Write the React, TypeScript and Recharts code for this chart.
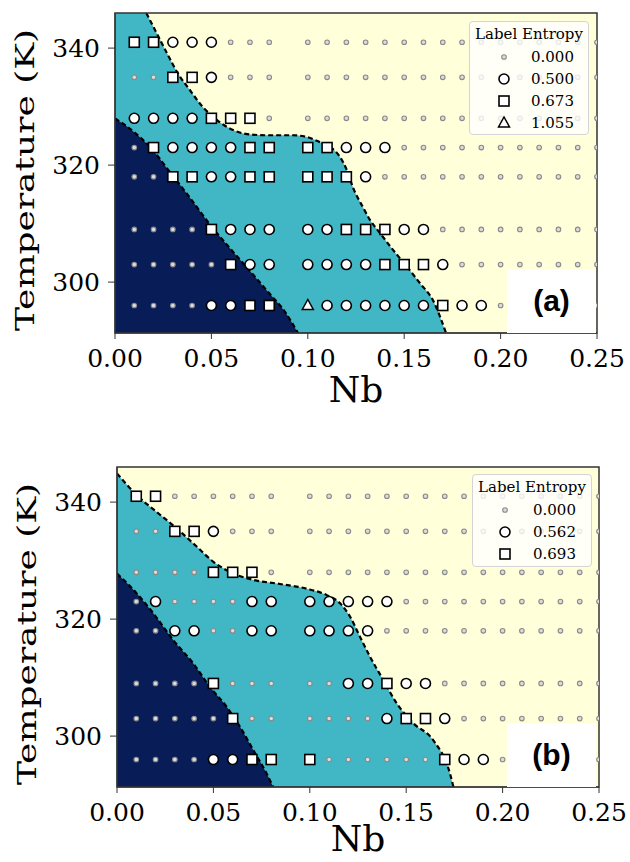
import React from "react";
import { ComposedChart, XAxis, YAxis, Area, Scatter, ReferenceArea } from "recharts";

// composition grid (Nb) and temperatures of the sampled points
const NB = [
  0.01, 0.02, 0.03, 0.04, 0.05, 0.06, 0.07, 0.08,
  0.1, 0.11, 0.12, 0.13, 0.14, 0.15, 0.16, 0.17, 0.18, 0.19, 0.2, 0.21, 0.22, 0.23, 0.24, 0.25,
];
const TEMPS = [341, 335, 328, 323, 318, 309, 303, 296];

const X_TICKS = [0, 0.05, 0.1, 0.15, 0.2, 0.25];
const Y_TICKS = [300, 320, 340];
const T_MIN = 291.3;
const T_MAX = 346;

// label entropy codes per row (first 8 = 0.01..0.08, then 0.10..0.25)
// "." 0.000   "o" circle   "s" square   "^" triangle
const GRID_A = [
  "ssooo... ................",
  "..sso... ................",
  "oooosss. ................",
  ".sooooss ssooo...........",
  "..ssooss ssso............",
  "....sooo oosssoo.........",
  ".....soo oooossso........",
  "....ooss ^oooooosoo......",
];
const GRID_B = [
  "ss...... ................",
  "..sso... ................",
  "....sss. ................",
  ".o....oo ooooo...........",
  "..oo..oo oooo............",
  "....s... ..oosoo.........",
  ".....s.. ....osso........",
  "....ooss s......soo......",
];

const LEGEND_A = ["0.000", "0.500", "0.673", "1.055"];
const LEGEND_B = ["0.000", "0.562", "0.693"];

// phase boundaries [Nb, T]
const LOWER_A = [
  [0, 328.0], [0.0104, 325.5], [0.0182, 323.1], [0.0285, 318.8], [0.0389, 314.4],
  [0.0498, 309.6], [0.0596, 305.8], [0.07, 301.9], [0.0794, 298.3], [0.0882, 294.9], [0.0949, 291.3],
];
const UPPER_A = [
  [0, 352], [0.013, 348], [0.0181, 344.8], [0.027, 339.1], [0.0322, 335.9], [0.0389, 332.8],
  [0.0456, 329.9], [0.0529, 327.7], [0.0612, 326.0], [0.0685, 325.3], [0.0788, 325.1],
  [0.0923, 325.1], [0.0996, 324.8], [0.1063, 323.9], [0.1115, 323.1], [0.1167, 321.4],
  [0.1203, 319.1], [0.1234, 316.2], [0.1286, 312.8], [0.1323, 310.6], [0.1374, 308.4],
  [0.1442, 305.5], [0.1515, 302.6], [0.1582, 299.8], [0.1649, 296.9], [0.1717, 291.3],
];
const LOWER_B = [
  [0, 327.8], [0.0102, 324.4], [0.0188, 321.0], [0.0292, 316.4], [0.0396, 312.4],
  [0.0482, 308.4], [0.0569, 305.0], [0.0638, 301.6], [0.0707, 297.6], [0.0776, 293.6], [0.081, 291.3],
];
const UPPER_B = [
  [0, 344.9], [0.0102, 341.2], [0.0206, 338.3], [0.031, 335.5], [0.0413, 332.4], [0.05, 329.8],
  [0.0603, 327.8], [0.0707, 326.7], [0.0845, 326.0], [0.0984, 325.2], [0.1088, 324.1],
  [0.1157, 322.7], [0.1209, 320.4], [0.126, 317.0], [0.1312, 313.6], [0.1381, 309.6],
  [0.1451, 305.6], [0.1537, 302.2], [0.164, 299.3], [0.1727, 293.6], [0.1745, 291.3],
];

const NAVY = "#081d58";
const TEAL = "#41b6c4";
const CREAM = "#ffffd9";
const SERIF = "DejaVu Serif";

type Pt = { x: number; t: number };
const toPts = (pairs: number[][]): Pt[] => pairs.map(([x, t]) => ({ x, t }));
const FULL = toPts([[0, T_MAX], [0.25, T_MAX]]);

function pick(grid: string[], code: string): Pt[] {
  const out: Pt[] = [];
  grid.forEach((row, i) => {
    row.replace(/ /g, "").split("").forEach((c, j) => {
      if (c === code) out.push({ x: NB[j], t: TEMPS[i] });
    });
  });
  return out;
}

// marker shapes
const SmallDot = (p: any) => (
  <circle cx={p.cx} cy={p.cy} r={2.3} fill="#dcdcdc" stroke="#8a8a8a" strokeWidth={1.1} />
);
const OpenCircle = (p: any) => (
  <circle cx={p.cx} cy={p.cy} r={5} fill="#fff" stroke="#000" strokeWidth={1.6} />
);
const OpenSquare = (p: any) => (
  <rect x={p.cx - 5} y={p.cy - 5} width={10} height={10} fill="#fff" stroke="#000" strokeWidth={1.6} />
);
const OpenTriangle = (p: any) => (
  <polygon
    points={`${p.cx},${p.cy - 6} ${p.cx - 5.5},${p.cy + 4} ${p.cx + 5.5},${p.cy + 4}`}
    fill="#fff"
    stroke="#000"
    strokeWidth={1.5}
  />
);
const SHAPES: Record<string, (p: any) => React.ReactElement> = {
  ".": SmallDot,
  o: OpenCircle,
  s: OpenSquare,
  "^": OpenTriangle,
};
const CODES = [".", "o", "s", "^"];

const tempLabel = (props: any) => {
  const vb = props.viewBox ?? { x: 0, y: 13, width: 115, height: 320 };
  const cx = vb.x + 34;
  const cy = vb.y + vb.height / 2 + 7;
  return (
    <text
      transform={`translate(${cx},${cy}) rotate(-90) scale(1,0.72)`}
      textAnchor="middle"
      fontFamily={SERIF}
      fontSize={36}
      fill="#000"
    >
      Temperature (K)
    </text>
  );
};

const makeNbLabel = (dy: number) => (props: any) => {
  const vb = props.viewBox ?? { x: 115, y: 333, width: 482, height: 60 };
  return (
    <text x={vb.x + vb.width / 2} y={vb.y + dy} textAnchor="middle" fontFamily={SERIF} fontSize={36} fill="#000">
      Nb
    </text>
  );
};

function EntropyLegend({ left, top, width, height, values, markerX, textX }: any) {
  return (
    <div
      style={{
        position: "absolute",
        left,
        top,
        width,
        height,
        boxSizing: "border-box",
        background: "rgba(255,255,255,0.8)",
        border: "1px solid #d4d4d4",
        borderRadius: 4,
        fontFamily: SERIF,
        fontSize: 15,
        color: "#000",
      }}
    >
      <div style={{ position: "absolute", left: 0, right: 0, top: 3, textAlign: "center" }}>Label Entropy</div>
      {values.map((v: string, i: number) => {
        const Shape = SHAPES[CODES[i]];
        return (
          <div key={v} style={{ position: "absolute", left: 0, top: 24 + i * 22, height: 22, width: "100%" }}>
            <svg width={20} height={22} style={{ position: "absolute", left: markerX - 10, top: 0 }}>
              <Shape cx={10} cy={11} />
            </svg>
            <span style={{ position: "absolute", left: textX, top: 2 }}>{v}</span>
          </div>
        );
      })}
    </div>
  );
}

function Panel({ top, height, shift, bottom, nbDy, lower, upper, grid, codes, tag, legend }: any) {
  return (
    <div style={{ position: "absolute", left: 0, top, width: 630, height }}>
      <ComposedChart width={630} height={height} margin={{ top: 13, right: 33 - shift, bottom, left: shift }}>
        <XAxis
          type="number"
          dataKey="x"
          domain={[0, 0.25]}
          ticks={X_TICKS}
          interval={0}
          allowDataOverflow
          height={60}
          tickFormatter={(v: number) => v.toFixed(2)}
          tick={{ fontFamily: SERIF, fontSize: 25, fill: "#000" }}
          tickSize={6}
          tickMargin={10}
          axisLine={{ stroke: "#333" }}
          tickLine={{ stroke: "#333" }}
          label={{ content: makeNbLabel(nbDy) }}
        />
        <YAxis
          type="number"
          dataKey="t"
          domain={[T_MIN, T_MAX]}
          ticks={Y_TICKS}
          interval={0}
          allowDataOverflow
          width={115}
          tick={{ fontFamily: SERIF, fontSize: 25, fill: "#000" }}
          tickSize={7}
          tickMargin={8}
          axisLine={{ stroke: "#333" }}
          tickLine={{ stroke: "#333" }}
          label={{ content: tempLabel }}
        />
        <Area data={FULL} dataKey="t" type="linear" baseValue={T_MIN} fill={CREAM} fillOpacity={1} stroke="none" isAnimationActive={false} />
        <Area
          data={toPts(upper)}
          dataKey="t"
          type="monotone"
          baseValue={T_MIN}
          fill={TEAL}
          fillOpacity={1}
          stroke="#000"
          strokeWidth={2.2}
          strokeDasharray="5 3"
          isAnimationActive={false}
        />
        <Area
          data={toPts(lower)}
          dataKey="t"
          type="monotone"
          baseValue={T_MIN}
          fill={NAVY}
          fillOpacity={1}
          stroke="#000"
          strokeWidth={2.2}
          strokeDasharray="5 3"
          isAnimationActive={false}
        />
        {codes.map((c: string) => (
          <Scatter key={c} data={pick(grid, c)} dataKey="t" shape={SHAPES[c]} isAnimationActive={false} />
        ))}
        <ReferenceArea x1={0} x2={0.25} y1={T_MIN} y2={T_MAX} fill="none" stroke="#333" strokeWidth={1.5} />
      </ComposedChart>
      {legend}
      <div
        style={{
          position: "absolute",
          left: 507,
          top: 269,
          width: 89,
          height: 64,
          background: "#fff",
          display: "flex",
          alignItems: "center",
          justifyContent: "center",
          fontFamily: "Liberation Sans",
          fontWeight: "bold",
          fontSize: 30,
          color: "#000",
        }}
      >
        {tag}
      </div>
    </div>
  );
}

export default function App() {
  return (
    <div style={{ position: "absolute", left: 0, top: 0, width: 630, height: 862, background: "#fff" }}>
      <Panel
        top={0}
        height={454}
        shift={0}
        bottom={61}
        nbDy={69}
        lower={LOWER_A}
        upper={UPPER_A}
        grid={GRID_A}
        codes={[".", "o", "s", "^"]}
        tag="(a)"
        legend={<EntropyLegend left={469} top={21} width={120} height={114} values={LEGEND_A} markerX={34} textX={61} />}
      />
      <Panel
        top={454}
        height={408}
        shift={2}
        bottom={15}
        nbDy={64}
        lower={LOWER_B}
        upper={UPPER_B}
        grid={GRID_B}
        codes={[".", "o", "s"]}
        tag="(b)"
        legend={<EntropyLegend left={472} top={20} width={120} height={93} values={LEGEND_B} markerX={32} textX={60} />}
      />
    </div>
  );
}
